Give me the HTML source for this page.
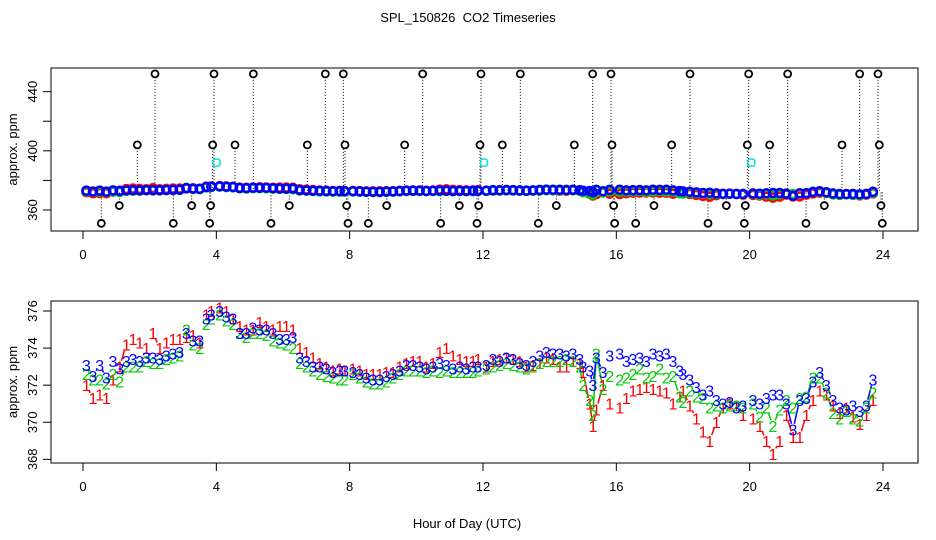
<!DOCTYPE html>
<html><head><meta charset="utf-8"><style>
body{margin:0;background:#fff}
svg{display:block;font-family:"Liberation Sans",sans-serif}
</style></head><body>
<svg id="chart" width="936" height="540" xmlns="http://www.w3.org/2000/svg">
<rect width="936" height="540" fill="#fff"/>
<text x="468" y="22" font-size="13" text-anchor="middle" style="white-space:pre">SPL_150826  CO2 Timeseries</text>
<text x="467" y="528" font-size="13" text-anchor="middle">Hour of Day (UTC)</text>
<g id="topPanel"></g>
<g id="botPanel"></g>
</svg>
<script>
const hours=[0.1,0.3,0.5,0.7,0.9,1.1,1.3,1.5,1.7,1.9,2.1,2.3,2.5,2.7,2.9,3.1,3.3,3.5,3.7,3.85,
4.1,4.3,4.5,4.7,4.9,5.1,5.3,5.5,5.7,5.9,6.1,6.3,6.5,6.7,6.9,7.1,7.3,7.5,7.7,7.85,
8.1,8.3,8.5,8.7,8.9,9.1,9.3,9.5,9.7,9.9,10.1,10.3,10.5,10.7,10.9,11.1,11.3,11.5,11.7,11.85,
12.1,12.3,12.5,12.7,12.9,13.1,13.3,13.5,13.7,13.9,14.1,14.3,14.5,14.7,14.9,15.0,15.2,15.3,15.4,15.6,15.8,
16.1,16.3,16.5,16.7,16.9,17.1,17.3,17.5,17.7,17.9,18.0,18.2,18.4,18.6,18.8,19.0,19.2,19.4,19.6,19.8,
20.1,20.3,20.5,20.7,20.9,21.1,21.3,21.5,21.7,21.9,22.1,22.3,22.5,22.7,22.9,23.1,23.3,23.5,23.7];
const series1=[372.0,371.3,371.5,371.3,372.3,373.0,374.2,374.5,374.3,374.0,374.8,374.0,374.3,374.5,374.5,374.6,374.7,374.3,375.8,376.0,
376.2,376.0,375.6,375.2,375.0,375.0,375.4,375.2,375.0,375.2,375.2,375.0,374.0,373.8,373.5,373.2,373.0,372.8,372.9,372.8,
372.9,372.8,372.6,372.6,372.6,372.7,372.7,373.0,373.2,373.3,373.3,373.0,373.2,373.8,374.0,373.6,373.4,373.3,373.3,373.4,
373.0,373.3,373.4,373.5,373.4,373.3,373.0,373.1,373.2,373.5,373.4,373.0,373.0,373.3,373.2,372.7,371.0,369.8,370.7,372.0,371.0,
370.8,371.3,371.7,371.8,371.9,371.8,371.7,371.6,371.0,371.4,371.7,370.9,370.2,369.5,369.0,370.0,370.8,371.0,370.9,370.4,
370.2,369.8,369.0,368.3,369.0,370.4,369.2,369.2,370.4,371.2,371.7,371.5,370.9,370.5,370.8,370.3,369.9,370.4,371.2];
const series2=[372.6,372.3,372.3,372.1,372.6,372.2,373.0,373.0,373.0,373.3,373.2,373.2,373.4,373.5,373.6,375.0,374.2,374.0,375.3,375.6,
375.8,375.5,375.3,374.8,374.6,374.8,374.8,374.7,374.4,374.3,374.2,374.0,373.2,373.0,372.8,372.6,372.5,372.4,372.3,372.3,
372.6,372.4,372.2,372.1,372.1,372.2,372.4,372.6,372.8,372.8,372.8,372.7,372.8,372.7,372.8,372.7,372.7,372.7,372.7,372.8,
372.9,373.0,373.1,373.2,373.1,373.0,372.9,373.0,373.2,373.3,373.3,373.3,373.4,373.3,373.0,372.0,371.2,370.4,373.7,371.8,372.5,
372.3,372.4,372.6,372.9,372.4,372.5,372.9,372.4,372.5,371.4,371.1,371.7,371.4,371.3,370.8,370.9,370.8,370.9,370.9,370.8,
371.0,370.3,370.8,369.8,370.7,371.2,370.8,371.3,371.4,372.4,372.4,371.6,370.5,370.2,370.6,370.2,370.1,370.8,371.6];
const series3=[373.1,372.5,373.1,372.4,373.3,372.9,373.3,373.4,373.3,373.5,373.5,373.4,373.6,373.7,373.8,374.8,374.4,374.4,375.6,375.8,
376.0,375.7,375.6,374.8,374.8,375.1,375.0,375.0,374.8,374.5,374.5,374.6,373.5,373.3,373.0,373.0,372.9,372.7,372.8,372.8,
372.7,372.6,372.4,372.3,372.3,372.5,372.6,372.8,373.1,373.1,373.0,372.9,373.0,373.2,373.1,372.9,373.0,372.9,373.0,373.0,
373.1,373.4,373.3,373.5,373.4,373.2,373.1,373.3,373.6,373.8,373.7,373.7,373.6,373.7,373.4,373.0,372.8,372.0,373.5,372.7,373.6,
373.7,373.3,373.4,373.5,373.3,373.7,373.6,373.7,373.3,372.8,372.6,372.3,371.9,371.5,371.7,371.2,371.0,371.1,370.8,370.9,
371.2,371.0,371.3,371.5,371.5,371.0,369.6,371.2,371.3,372.2,372.7,372.0,371.2,370.8,370.7,370.9,370.6,370.9,372.3];
const outlierHours=[2.16,3.93,5.11,7.27,7.81,10.19,11.94,13.12,15.29,15.84,18.21,19.97,21.14,23.30,23.85,
1.63,3.89,4.56,6.73,7.86,9.65,11.91,12.58,14.74,15.87,17.66,19.93,20.60,22.77,23.89,
1.09,3.26,3.83,6.19,7.91,9.11,11.29,11.87,14.2,15.92,17.13,19.3,19.87,22.24,23.94,
0.55,2.71,3.8,5.64,7.95,8.56,10.73,11.82,13.66,15.95,16.58,18.75,19.84,21.69,23.98];
const outlierValues=[452,452,452,452,452,452,452,452,452,452,452,452,452,452,452,
404,404,404,404,404,404,404,404,404,404,404,404,404,404,404,
363,363,363,363,363,363,363,363,363,363,363,363,363,363,363,
351,351,351,351,351,351,351,351,351,351,351,351,351,351,351];
const calHours=[4.01,12.03,20.05];
const calValues=[392,392,392];
const xTicks=[0,4,8,12,16,20,24];
const topYTicks=[360,380,400,420,440];
const topYLabels=[360,400,440];
const botYTicks=[368,370,372,374,376];

const NS="http://www.w3.org/2000/svg";
function mk(p,tag,at){const e=document.createElementNS(NS,tag);for(const k in at)e.setAttribute(k,at[k]);p.appendChild(e);return e;}
const X=h=>83+h*33.333;
const Ytop=v=>210-(v-360)*1.4795;
const Ybot=v=>311-(v-376)*18.54;
const colors=["#ff0000","#00cc00","#0000ff"];
const allSeries=[series1,series2,series3];

function axes(g,y0,y1,yScale,yt,yl,name){
  let r=mk(g,"rect",{x:51,y:y0,width:867,height:y1-y0,fill:"none",stroke:"#000","stroke-width":1});
  
  
  xTicks.forEach(t=>{
    let l=mk(g,"line",{x1:X(t),x2:X(t),y1:y1,y2:y1+8,stroke:"#000"});
    
    
    let tx=mk(g,"text",{x:X(t),y:y1+28,"font-size":13,"text-anchor":"middle"});tx.textContent=t;
    
    
  });
  yt.forEach(t=>{
    let l=mk(g,"line",{x1:43,x2:51,y1:yScale(t),y2:yScale(t),stroke:"#000"});
    
    
  });
  yl.forEach(t=>{
    let tx=mk(g,"text",{x:0,y:0,"font-size":13,"text-anchor":"middle",transform:`translate(37,${yScale(t)}) rotate(-90)`});tx.textContent=t;
    
    
  });
  let yt2=mk(g,"text",{x:0,y:0,"font-size":13,"text-anchor":"middle",transform:`translate(17,${(y0+y1)/2}) rotate(-90)`});yt2.textContent="approx. ppm";
  
  
}

const topPanel=document.getElementById("topPanel"), botPanel=document.getElementById("botPanel");
axes(topPanel,68,231,Ytop,topYTicks,topYLabels,"top");
axes(botPanel,301,463,Ybot,botYTicks,botYTicks,"bottom");

outlierHours.forEach((h,i)=>{
  let l=mk(topPanel,"line",{x1:X(h),x2:X(h),y1:Ytop(outlierValues[i]),y2:Ytop(373),stroke:"#000","stroke-dasharray":"1,2","stroke-width":1});
  
  
});
allSeries.forEach((s,k)=>{
  hours.forEach((h,i)=>{
    let c=mk(topPanel,"circle",{cx:X(h),cy:Ytop(s[i]),r:4,fill:"none",stroke:colors[k],"stroke-width":2.5});
    
    
  });
});
outlierHours.forEach((h,i)=>{
  let c=mk(topPanel,"circle",{cx:X(h),cy:Ytop(outlierValues[i]),r:3.5,fill:"#fff",stroke:"#000","stroke-width":1.8});
  
  
});
calHours.forEach((h,i)=>{
  let c=mk(topPanel,"rect",{x:X(h)-3.5,y:Ytop(calValues[i])-3.5,width:7,height:7,rx:2,fill:"none",stroke:"#00e5e5","stroke-width":1.5});
  
  
});

const GAP=6;
allSeries.forEach((s,k)=>{
  for(let i=1;i<hours.length;i++){
    if(hours[i]-hours[i-1]>0.2)continue;
    const x1=X(hours[i-1]),y1=Ybot(s[i-1]),x2=X(hours[i]),y2=Ybot(s[i]);
    const d=Math.hypot(x2-x1,y2-y1);
    if(d<=2*GAP)continue;
    const ux=(x2-x1)/d,uy=(y2-y1)/d;
    let l=mk(botPanel,"line",{x1:x1+ux*GAP,y1:y1+uy*GAP,x2:x2-ux*GAP,y2:y2-uy*GAP,stroke:colors[k],"stroke-width":1.5});
    
    
  }
});
allSeries.forEach((s,k)=>{
  hours.forEach((h,i)=>{
    let t=mk(botPanel,"text",{x:X(h),y:Ybot(s[i])+6,"font-size":16,"text-anchor":"middle",fill:colors[k]});
    t.textContent=String(k+1);
    
    
  });
});
</script>
</body></html>
